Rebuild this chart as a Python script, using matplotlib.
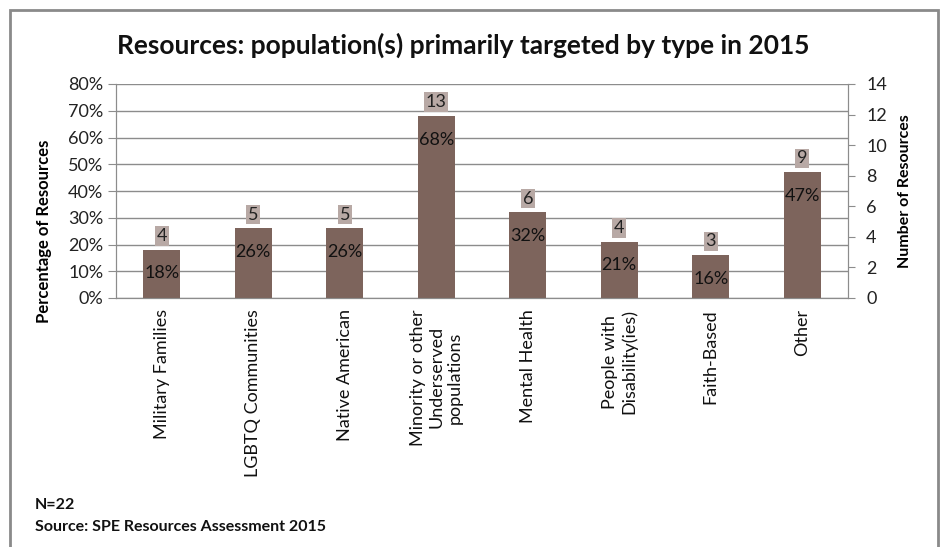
import matplotlib
matplotlib.use("Agg")
import matplotlib.pyplot as plt
from matplotlib.patches import Rectangle

categories = ["Military Families", "LGBTQ Communities", "Native American",
              "Minority or other\nUnderserved\npopulations", "Mental Health",
              "People with\nDisability(ies)", "Faith-Based", "Other"]
percent = [18, 26, 26, 68, 32, 21, 16, 47]
counts = [4, 5, 5, 13, 6, 4, 3, 9]
pct_ticks = [0, 10, 20, 30, 40, 50, 60, 70, 80]
count_ticks = [0, 2, 4, 6, 8, 10, 12, 14]

plt.rcParams['font.family'] = ['Lato', 'DejaVu Sans']

fig = plt.figure(figsize=(9.4, 5.47), dpi=100)
fig.patch.set_facecolor('white')
# outer frame
fig.add_artist(Rectangle((10/940, -0.05), (938-10)/940, 1 - 10/547 + 0.05,
                         transform=fig.transFigure, fill=False,
                         edgecolor='#8a8a8a', linewidth=2))

ax = fig.add_axes([116/940, 1-298/547, (848-116)/940, (298-84)/547])
x = list(range(len(categories)))
bar_color = '#7d645c'
ax.bar(x, percent, width=0.4, color=bar_color, zorder=3)
ax.set_ylim(0, 80)
ax.set_xlim(-0.5, len(categories) - 0.5)
ax.set_yticks(pct_ticks)
ax.set_yticklabels([f"{t}%" for t in pct_ticks], fontsize=13, color='#222222')
ax.yaxis.grid(True, color='#8c8c8c', linewidth=1, zorder=0)
ax.set_axisbelow(True)
ax.tick_params(axis='y', length=6, color='#8c8c8c', pad=3)
ax.tick_params(axis='x', length=0, pad=8)
ax.set_xticks(x)
ax.set_xticklabels(categories, rotation=90, fontsize=13, color='#111111',
                   va='top', ha='center', multialignment='center')
for s in ['top']:
    ax.spines[s].set_visible(False)
for s in ['left', 'bottom', 'right']:
    ax.spines[s].set_color('#8c8c8c')
ax.set_ylabel("Percentage of Resources", fontsize=12, fontweight='bold')
ax.yaxis.set_label_coords(-0.087, 0.31)

for xi, p, c in zip(x, percent, counts):
    ax.annotate(f"{p}%", (xi, p), xytext=(0, -17), textcoords='offset points',
                ha='center', va='center', fontsize=13, color='#111111', zorder=5)
    ax.annotate(f"{c}", (xi, p), xytext=(0, 10), textcoords='offset points',
                ha='center', va='center', fontsize=13, color='#222222', zorder=5,
                bbox=dict(boxstyle='square,pad=0.1', facecolor='#b8a9a5',
                          edgecolor='none'))

ax2 = ax.twinx()
ax2.set_ylim(0, 14)
ax2.set_yticks(count_ticks)
ax2.set_yticklabels([str(t) for t in count_ticks], fontsize=13, color='#222222')
ax2.tick_params(axis='y', length=5, color='#8c8c8c', pad=8)
for s in ['top']:
    ax2.spines[s].set_visible(False)
for s in ['left', 'bottom', 'right']:
    ax2.spines[s].set_color('#8c8c8c')
ax2.set_ylabel("Number of Resources", fontsize=11.5, fontweight='bold', labelpad=8)

fig.text(463/940, 1-45/547, "Resources: population(s) primarily targeted by type in 2015",
         ha='center', va='center', fontsize=19, fontweight='bold', color='#111111')
fig.text(35/940, 1-505/547, "N=22", ha='left', va='center', fontsize=11.5,
         fontweight='bold', color='#111111')
fig.text(35/940, 1-527/547, "Source: SPE Resources Assessment 2015", ha='left',
         va='center', fontsize=11.5, fontweight='bold', color='#111111')

fig.savefig("out.png", dpi=100)
